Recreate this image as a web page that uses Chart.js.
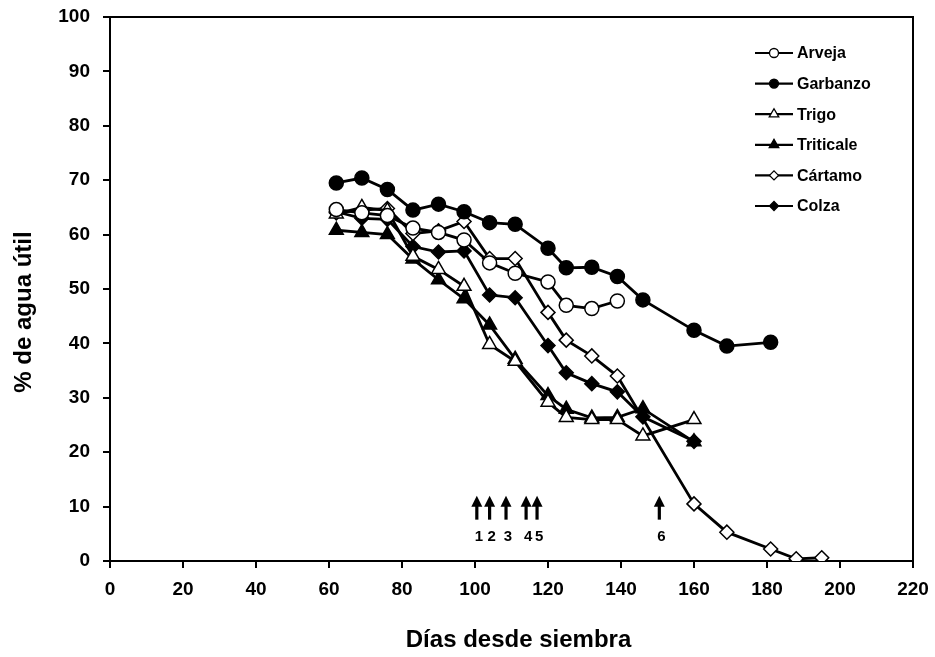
<!DOCTYPE html>
<html>
<head>
<meta charset="utf-8">
<script src="https://cdn.jsdelivr.net/npm/chart.js@4/dist/chart.umd.min.js"></script>
<style>
html,body{margin:0;padding:0;background:#fff;}
#wrap{width:935px;height:657px;}
</style>
</head>
<body>
<div id="wrap"><canvas id="c" width="935" height="657"></canvas></div>
<script>
// ---- data ----
const seriesNames = ['Arveja','Garbanzo','Trigo','Triticale','Cártamo','Colza'];

const arvejaDays = [62,69,76,83,90,97,104,111,120,125,132,139];
const arvejaVals = [64.6,64.0,63.5,61.2,60.4,59.0,54.8,52.9,51.3,47.0,46.4,47.8];

const garbanzoDays = [62,69,76,83,90,97,104,111,120,125,132,139,146,160,169,181];
const garbanzoVals = [69.5,70.4,68.3,64.5,65.6,64.2,62.2,61.9,57.5,53.9,54.0,52.3,48.0,42.4,39.5,40.2];

const trigoDays = [62,69,76,83,90,97,104,111,120,125,132,139,146,160];
const trigoVals = [63.8,65.0,64.4,56.0,53.6,50.5,39.8,36.7,29.2,26.4,26.0,26.0,23.0,26.0];

const triticaleDays = [62,69,76,83,90,97,104,111,120,125,132,139,146,160];
const triticaleVals = [60.8,60.4,60.0,55.5,51.7,48.2,43.4,37.1,30.4,27.9,26.3,26.4,28.0,21.9];

const cartamoDays = [62,69,76,83,90,97,104,111,120,125,132,139,160,169,181,188,195];
const cartamoVals = [64.0,64.5,64.8,60.2,60.7,62.4,55.6,55.6,45.7,40.6,37.7,34.0,10.5,5.3,2.2,0.4,0.6];

const colzaDays = [62,69,76,83,90,97,104,111,120,125,132,139,146,160];
const colzaVals = [64.2,63.0,62.8,57.8,56.8,57.0,48.9,48.4,39.6,34.6,32.6,31.1,26.5,22.0];

// arrows (events) on the x axis
const arrowDays   = [100.5,104,108.5,114,117,150.5];
const arrowLabels = ['1','2','3','4','5','6'];
const arrowTop = 12.0, arrowBottom = 7.6, arrowLabelY = 4.4;

const xTitle = 'Días desde siembra';
const yTitle = '% de agua útil';

// ---- styles ----
const styles = [
  {pointStyle:'circle',   fill:'#fff', r:7},
  {pointStyle:'circle',   fill:'#000', r:7},
  {pointStyle:'triangle', fill:'#fff', r:8},
  {pointStyle:'triangle', fill:'#000', r:8},
  {pointStyle:'rectRot',  fill:'#fff', r:7},
  {pointStyle:'rectRot',  fill:'#000', r:7}
];
const allDays = [arvejaDays,garbanzoDays,trigoDays,triticaleDays,cartamoDays,colzaDays];
const allVals = [arvejaVals,garbanzoVals,trigoVals,triticaleVals,cartamoVals,colzaVals];

const FONT = '"Liberation Sans", Arial, Helvetica, sans-serif';

const datasets = seriesNames.map((n,i)=>({
  label:n,
  data: allDays[i].map((d,j)=>({x:d,y:allVals[i][j]})),
  showLine:true,
  borderColor:'#000',
  borderWidth:2.8,
  pointStyle:styles[i].pointStyle,
  pointRadius:styles[i].r,
  pointHoverRadius:styles[i].r,
  pointBackgroundColor:styles[i].fill,
  pointBorderColor:'#000',
  pointBorderWidth:1.5,
  tension:0
}));

function drawMarker(ctx, style, x, y, r, fill){
  ctx.beginPath();
  if(style==='circle'){
    ctx.arc(x,y,r,0,Math.PI*2);
  } else if(style==='triangle'){
    for(let k=0;k<3;k++){
      const a = k*2*Math.PI/3;
      const px = x + Math.sin(a)*r, py = y - Math.cos(a)*r;
      if(k===0) ctx.moveTo(px,py); else ctx.lineTo(px,py);
    }
  } else {
    ctx.moveTo(x-r,y); ctx.lineTo(x,y-r); ctx.lineTo(x+r,y); ctx.lineTo(x,y+r);
  }
  ctx.closePath();
  ctx.fillStyle = fill; ctx.fill();
  ctx.lineWidth = 1.3; ctx.strokeStyle = '#000'; ctx.stroke();
}

const extras = {
  id:'extras',
  afterDraw(chart){
    const ctx = chart.ctx, ca = chart.chartArea;
    const xs = chart.scales.x, ys = chart.scales.y;
    ctx.save();
    // box top & right
    ctx.strokeStyle='#000'; ctx.lineWidth=2;
    ctx.beginPath();
    ctx.moveTo(ca.left, ca.top); ctx.lineTo(ca.right, ca.top); ctx.lineTo(ca.right, ca.bottom);
    ctx.stroke();

    // arrows
    arrowDays.forEach((d,i)=>{
      const x = xs.getPixelForValue(d);
      const yt = ys.getPixelForValue(arrowTop);
      const yb = ys.getPixelForValue(arrowBottom);
      ctx.fillStyle='#000'; ctx.strokeStyle='#000';
      ctx.beginPath();
      ctx.moveTo(x, yt); ctx.lineTo(x+5.5, yt+11); ctx.lineTo(x-5.5, yt+11); ctx.closePath();
      ctx.fill();
      ctx.lineWidth=3.2;
      ctx.beginPath(); ctx.moveTo(x, yt+9); ctx.lineTo(x, yb); ctx.stroke();
      ctx.font = 'bold 15px ' + FONT;
      ctx.textAlign='center'; ctx.textBaseline='middle';
      ctx.fillText(arrowLabels[i], x+2, ys.getPixelForValue(arrowLabelY));
    });

    // legend
    const lx0 = ca.right - 158, lx1 = ca.right - 120, ltx = ca.right - 116;
    seriesNames.forEach((n,i)=>{
      const y = ca.top + 36 + i*30.6;
      ctx.strokeStyle='#000'; ctx.lineWidth=2.2;
      ctx.beginPath(); ctx.moveTo(lx0,y); ctx.lineTo(lx1,y); ctx.stroke();
      const st = styles[i];
      const rr = st.pointStyle==='triangle' ? 5.5 : 4.5;
      drawMarker(ctx, st.pointStyle, (lx0+lx1)/2, y, rr, st.fill);
      ctx.fillStyle='#000';
      ctx.font='bold 16px ' + FONT;
      ctx.textAlign='left'; ctx.textBaseline='middle';
      ctx.fillText(n, ltx, y+1);
    });

    // axis titles
    ctx.fillStyle='#000';
    ctx.font='bold 24px ' + FONT;
    ctx.textAlign='center'; ctx.textBaseline='middle';
    ctx.fillText(xTitle, (ca.left+ca.right)/2 + 7, ca.bottom + 79);
    ctx.save();
    ctx.translate(24, (ca.top+ca.bottom)/2 + 23);
    ctx.rotate(-Math.PI/2);
    ctx.fillText(yTitle, 0, 0);
    ctx.restore();
    ctx.restore();
  }
};

new Chart(document.getElementById('c'), {
  type:'scatter',
  data:{datasets},
  options:{
    responsive:false,
    animation:false,
    devicePixelRatio:1,
    layout:{padding:{top:17,right:22,left:0,bottom:0}},
    plugins:{legend:{display:false}, tooltip:{enabled:false}},
    scales:{
      x:{
        type:'linear', min:0, max:220,
        afterFit(s){ s.height = 96; s.paddingLeft = 0; s.paddingRight = 0; },
        ticks:{stepSize:20, color:'#000', padding:10, font:{family:FONT, size:19, weight:'bold'}},
        grid:{drawOnChartArea:false, drawTicks:true, tickLength:7, color:'#000', lineWidth:2},
        border:{display:true, color:'#000', width:2},
        title:{display:false}
      },
      y:{
        type:'linear', min:0, max:100,
        afterFit(s){ s.width = 110; s.paddingTop = 0; s.paddingBottom = 0; },
        ticks:{stepSize:10, color:'#000', padding:13, font:{family:FONT, size:19, weight:'bold'}},
        grid:{drawOnChartArea:false, drawTicks:true, tickLength:7, color:'#000', lineWidth:2},
        border:{display:true, color:'#000', width:2},
        title:{display:false}
      }
    }
  },
  plugins:[extras]
});
</script>
</body>
</html>
